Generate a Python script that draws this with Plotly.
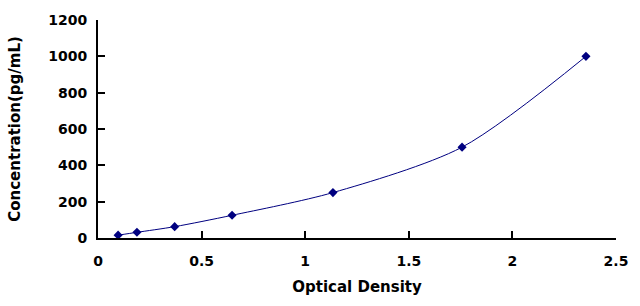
import plotly.graph_objects as go

od = [0.097, 0.188, 0.37, 0.647, 1.134, 1.757, 2.355]
conc = [15.6, 31.25, 62.5, 125, 250, 500, 1000]
x_ticks = [0, 0.5, 1, 1.5, 2, 2.5]
x_tick_labels = ["0", "0.5", "1", "1.5", "2", "2.5"]
y_ticks = [0, 200, 400, 600, 800, 1000, 1200]
y_tick_labels = ["0", "200", "400", "600", "800", "1000", "1200"]

navy = "#000080"
font_family = "DejaVu Sans, Verdana, sans-serif"

fig = go.Figure()
fig.add_trace(go.Scatter(
    x=od, y=conc, mode="lines+markers",
    line=dict(color=navy, width=1, shape="spline", smoothing=0.8),
    marker=dict(symbol="diamond", size=7, color=navy),
    showlegend=False,
))

axis_common = dict(
    showgrid=False, zeroline=False, showline=True, linecolor="black", linewidth=2,
    ticks="inside", ticklen=7, tickwidth=2, tickcolor="black",
    tickfont=dict(family=font_family, size=14, color="black"),
)

fig.update_layout(
    width=640, height=306,
    margin=dict(l=98, r=24, t=16, b=68),
    plot_bgcolor="white", paper_bgcolor="white",
    xaxis=dict(range=[0, 2.5], tickvals=x_ticks,
               ticktext=["<b>%s</b>" % t for t in x_tick_labels],
               title=dict(text="<b>Optical Density</b>", standoff=14,
                          font=dict(family=font_family, size=15, color="black")),
               ticklabelstandoff=9, **axis_common),
    yaxis=dict(range=[0, 1200], tickvals=y_ticks,
               ticktext=["<b>%s</b>" % t for t in y_tick_labels],
               title=dict(text="<b>Concentration(pg/mL)</b>", standoff=24,
                          font=dict(family=font_family, size=15, color="black")),
               ticklabelstandoff=6, **axis_common),
)

fig.write_html("out.html")
